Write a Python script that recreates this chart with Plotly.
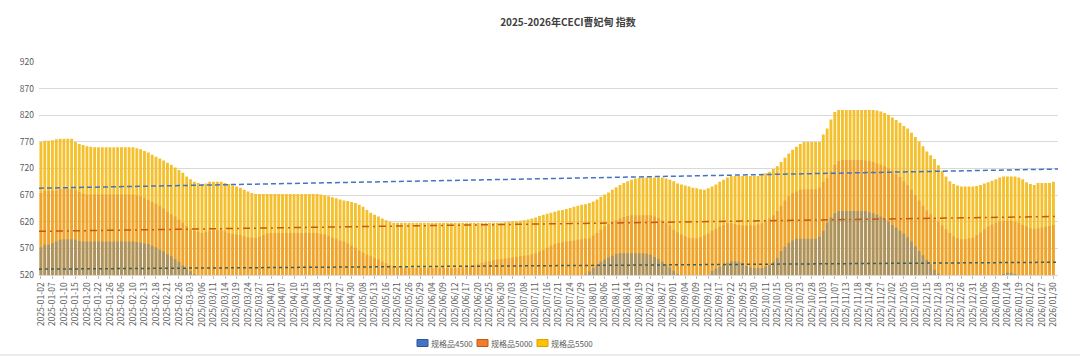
import plotly.graph_objects as go

TITLE = "2025-2026年CECI曹妃甸 指数"
SERIES_NAMES = ["规格品4500", "规格品5000", "规格品5500"]

TICK_LABELS = [
    "2025-01-02", "2025-01-07", "2025-01-10", "2025-01-15", "2025-01-20", "2025-01-22",
    "2025-01-26", "2025-02-06", "2025-02-10", "2025-02-13", "2025-02-18", "2025-02-21",
    "2025-02-26", "2025-03-03", "2025/03/06", "2025/03/11", "2025/03/14", "2025/03/19",
    "2025/03/24", "2025/03/27", "2025/04/01", "2025/04/07", "2025/04/10", "2025/04/15",
    "2025/04/18", "2025/04/23", "2025/04/27", "2025/04/30", "2025/05/08", "2025/05/13",
    "2025/05/16", "2025/05/21", "2025/05/26", "2025/05/29", "2025/06/04", "2025/06/09",
    "2025/06/12", "2025/06/17", "2025/06/20", "2025/06/25", "2025/06/30", "2025/07/03",
    "2025/07/08", "2025/07/11", "2025/07/16", "2025/07/21", "2025/07/24", "2025/07/29",
    "2025/08/01", "2025/08/06", "2025/08/11", "2025/08/14", "2025/08/19", "2025/08/22",
    "2025/08/27", "2025/09/01", "2025/09/04", "2025/09/09", "2025/09/12", "2025/09/17",
    "2025/09/22", "2025/09/25", "2025/09/30", "2025/10/11", "2025/10/15", "2025/10/20",
    "2025/10/23", "2025/10/28", "2025/11/03", "2025/11/07", "2025/11/13", "2025/11/18",
    "2025/11/24", "2025/11/27", "2025/12/02", "2025/12/05", "2025/12/10", "2025/12/15",
    "2025/12/18", "2025/12/23", "2025/12/26", "2025/12/31", "2026/01/06", "2026/01/09",
    "2026/01/14", "2026/01/19", "2026/01/22", "2026/01/27", "2026/01/30",
]
LABEL_EVERY = 3

V5500 = [
    770, 772, 772, 773, 775, 776, 776, 776, 776, 770,
    766, 764, 762, 761, 760, 760, 760, 760, 760, 760,
    760, 760, 760, 760, 760, 758, 756, 753, 750, 746,
    742, 739, 735, 731, 727, 722, 717, 712, 705, 700,
    695, 693, 691, 692, 695, 695, 695, 695, 693, 691,
    688, 686, 684, 680, 677, 674, 672, 672, 672, 672,
    672, 672, 672, 672, 672, 672, 672, 672, 672, 672,
    672, 672, 672, 671, 670, 668, 666, 664, 662, 660,
    659, 657, 655, 652, 648, 642, 637, 633, 630, 626,
    623, 620, 618, 618, 618, 618, 618, 618, 618, 618,
    618, 618, 618, 618, 618, 618, 618, 618, 618, 618,
    618, 618, 618, 618, 618, 618, 618, 618, 618, 618,
    618, 619, 620, 621, 621, 622, 623, 624, 626, 628,
    631, 633, 635, 637, 639, 641, 642, 644, 646, 648,
    650, 652, 653, 655, 658, 662, 667, 671, 675, 680,
    685, 689, 693, 696, 699, 701, 702, 703, 703, 703,
    703, 703, 703, 701, 699, 696, 692, 690, 688, 686,
    684, 683, 681, 680, 683, 686, 690, 695, 699, 703,
    706, 706, 706, 706, 706, 706, 706, 706, 708, 711,
    714, 719, 724, 732, 740, 748, 755, 761, 766, 770,
    770, 770, 770, 770, 784, 795, 812, 826, 830, 830,
    830, 830, 830, 830, 830, 830, 830, 830, 829, 827,
    824, 821, 816, 811, 806, 800, 795, 787, 779, 771,
    762, 752, 745, 738, 726, 716, 705, 696, 691, 688,
    686, 686, 686, 686, 687, 689, 692, 694, 697, 700,
    703, 705, 705, 705, 705, 703, 700, 694, 691, 689,
    693, 693, 693, 693, 695,
]

V5000 = [
    674, 678, 678, 678, 678, 681, 681, 681, 681, 679,
    676, 673, 671, 671, 671, 671, 671, 671, 671, 671,
    671, 671, 671, 671, 671, 670, 668, 665, 661, 657,
    654, 650, 645, 639, 634, 630, 624, 618, 612, 607,
    603, 601, 599, 601, 603, 604, 604, 604, 602, 599,
    597, 596, 595, 593, 591, 590, 590, 592, 595, 598,
    599, 599, 599, 599, 599, 599, 599, 599, 599, 599,
    599, 599, 599, 597, 596, 593, 590, 588, 585, 583,
    579, 575, 571, 566, 562, 558, 555, 552, 549, 545,
    542, 539, 537, 535, 534, 533, 533, 533, 533, 533,
    533, 533, 533, 533, 533, 533, 533, 533, 533, 533,
    534, 535, 537, 539, 541, 543, 545, 546, 548, 549,
    550, 551, 552, 553, 554, 555, 556, 557, 559, 561,
    564, 567, 571, 575, 578, 580, 582, 583, 584, 585,
    586, 587, 588, 589, 594, 599, 605, 611, 616, 620,
    623, 626, 629, 631, 632, 632, 632, 632, 632, 632,
    630, 627, 623, 618, 613, 605, 600, 596, 593, 590,
    589, 589, 591, 594, 598, 603, 607, 611, 614, 617,
    617, 616, 614, 613, 613, 613, 613, 615, 617, 620,
    626, 632, 640, 650, 660, 668, 674, 677, 680, 681,
    681, 681, 681, 684, 695, 702, 715, 727, 734, 736,
    736, 736, 736, 736, 736, 735, 734, 732, 730, 727,
    724, 720, 716, 709, 704, 696, 689, 680, 670, 660,
    650, 641, 634, 626, 620, 613, 606, 599, 593, 589,
    587, 587, 589, 590, 595, 600, 606, 611, 615, 618,
    620, 621, 622, 622, 620, 618, 614, 611, 608, 607,
    608, 609, 611, 612, 614,
]

V4500 = [
    572, 577, 577, 580, 583, 586, 587, 587, 587, 586,
    584, 583, 583, 583, 583, 583, 583, 583, 583, 583,
    583, 583, 583, 583, 583, 582, 581, 579, 578, 575,
    572, 568, 564, 559, 555, 550, 545, 538, 532, 527,
    522, 518, 515, 514, 514, 514, 515, 515, 515, 514,
    513, 512, 511, 511, 510, 510, 510, 511, 512, 513,
    513, 513, 513, 513, 513, 513, 513, 513, 513, 513,
    513, 513, 513, 512, 511, 510, 509, 508, 507, 506,
    505, 504, 503, 502, 501, 500, 499, 498, 497, 496,
    495, 494, 493, 492, 492, 492, 492, 492, 492, 492,
    492, 492, 492, 492, 492, 492, 492, 492, 492, 492,
    492, 493, 494, 495, 496, 497, 498, 499, 500, 501,
    502, 503, 504, 505, 506, 507, 508, 509, 510, 511,
    512, 513, 514, 515, 516, 517, 517, 518, 518, 518,
    518, 519, 521, 527, 533, 539, 545, 549, 553, 556,
    560, 561, 561, 561, 561, 561, 561, 561, 560, 558,
    554, 550, 545, 540, 534, 528, 522, 518, 516, 515,
    515, 515, 515, 516, 520, 528, 532, 535, 539, 543,
    546, 546, 545, 542, 537, 534, 533, 533, 533, 536,
    539, 545, 552, 565, 573, 580, 585, 588, 588, 588,
    588, 588, 588, 592, 603, 618, 628, 636, 640, 640,
    640, 640, 640, 640, 640, 640, 638, 636, 633, 630,
    625, 620, 614, 609, 603, 598, 591, 583, 574, 565,
    557, 548, 540, 530, 523, 518, 515, 512, 510, 508,
    507, 507, 508, 509, 510, 511, 512, 514, 516, 518,
    520, 522, 524, 524, 522, 519, 517, 515, 514, 514,
    515, 516, 517, 517, 518,
]

# linear trend lines (start / end values)
TREND_4500 = [531, 544]
TREND_5000 = [602, 630]
TREND_5500 = [683, 719]

assert len(V5500) == len(V5000) == len(V4500)
n = len(V5500)
xs = list(range(n))
X_RANGE = [-0.5, n + 0.2]

FONT = "Noto Sans CJK SC"
L, R, T, B = 39, 22, 62, 82
W, H = 1080, 357
pw = W - L - R
ph = H - T - B


def px_x(px):
    return (px - L) / pw


def px_y(py):
    return (T + ph - py) / ph


fig = go.Figure()

fig.add_trace(go.Bar(x=xs, y=V5500, name=SERIES_NAMES[2], showlegend=False,
                     marker=dict(color="rgb(245,192,45)", line=dict(width=0))))
fig.add_trace(go.Bar(x=xs, y=V5000, name=SERIES_NAMES[1], showlegend=False,
                     marker=dict(color="rgba(232,125,40,0.42)", line=dict(width=0))))
fig.add_trace(go.Bar(x=xs, y=V4500, name=SERIES_NAMES[0], showlegend=False,
                     marker=dict(color="rgba(75,125,175,0.42)", line=dict(width=0))))

fig.add_trace(go.Scatter(x=X_RANGE, y=TREND_4500, mode="lines", showlegend=False,
                         line=dict(color="#3F5F5A", width=1.5, dash="dot"), hoverinfo="skip"))
fig.add_trace(go.Scatter(x=X_RANGE, y=TREND_5000, mode="lines", showlegend=False,
                         line=dict(color="#C55A11", width=1.5, dash="7px,4px,2px,4px"), hoverinfo="skip"))
fig.add_trace(go.Scatter(x=X_RANGE, y=TREND_5500, mode="lines", showlegend=False,
                         line=dict(color="#4472C4", width=1.5, dash="5px,3px"), hoverinfo="skip"))

# custom legend (swatch + text), laid out like the original
LEGEND_COLORS = [("#4472C4", "#2F5597"), ("#ED7D31", "#C55A11"), ("#FFC000", "#D9A300")]
LEGEND_X = [417, 477, 537]
shapes = []
annotations = []
for name, (fill, edge), lx in zip(SERIES_NAMES, LEGEND_COLORS, LEGEND_X):
    shapes.append(dict(type="rect", xref="paper", yref="paper",
                       x0=px_x(lx), x1=px_x(lx + 11), y0=px_y(346.5), y1=px_y(339.5),
                       fillcolor=fill, line=dict(color=edge, width=1)))
    annotations.append(dict(text=name, xref="paper", yref="paper",
                            x=px_x(lx + 12), y=px_y(343), xanchor="left", yanchor="middle",
                            showarrow=False, font=dict(size=8, color="#595959", family=FONT)))

shapes.append(dict(type="line", xref="paper", yref="paper",
                   x0=px_x(0), x1=px_x(W), y0=px_y(355), y1=px_y(355),
                   line=dict(color="#D9D9D9", width=1)))

fig.update_layout(
    width=W, height=H,
    margin=dict(l=L, r=R, t=T, b=B, pad=0, autoexpand=False),
    barmode="overlay", bargap=0.25,
    plot_bgcolor="white", paper_bgcolor="white",
    font=dict(family=FONT, color="#595959"),
    showlegend=False,
    title=dict(text="<b>" + TITLE + "</b>", x=px_x(568), xref="paper", xanchor="center",
               y=1 - 22 / H, yref="container", yanchor="middle",
               font=dict(size=10, color="#404040", family=FONT)),
    xaxis=dict(range=X_RANGE, tickmode="array",
               tickvals=xs[::LABEL_EVERY], ticktext=TICK_LABELS,
               tickangle=-90, tickfont=dict(size=8.5, color="#595959"),
               ticks="outside", ticklen=3, tickcolor="#BFBFBF",
               showgrid=False, showline=True, linecolor="#D9D9D9", zeroline=False,
               automargin=False),
    yaxis=dict(range=[520, 920], dtick=50, tick0=520,
               tickfont=dict(size=8.5, color="#595959"),
               showgrid=True, gridcolor="#D9D9D9", gridwidth=1,
               zeroline=False, showline=False, ticks="", ticklabelstandoff=4,
               automargin=False),
    shapes=shapes,
    annotations=annotations,
    hovermode=False,
)

fig.write_html("out.html", config={"displayModeBar": False},
               post_script="document.body.style.margin='0';document.body.style.overflow='hidden';")
